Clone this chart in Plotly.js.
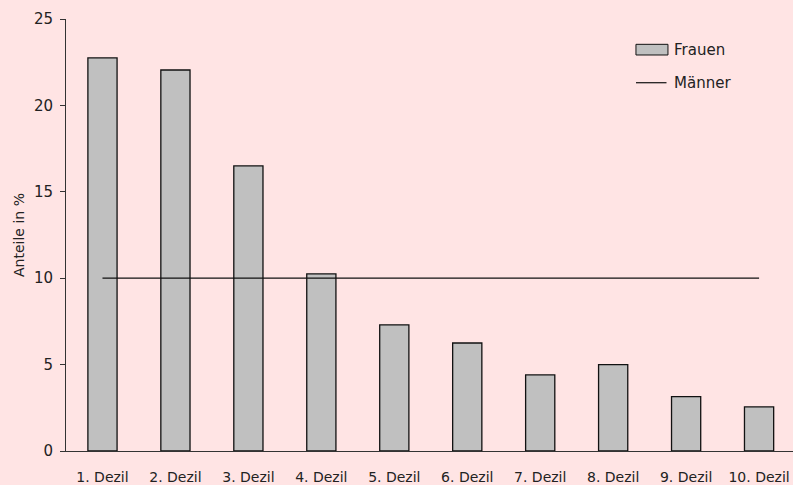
<!DOCTYPE html>
<html>
<head>
<meta charset="utf-8">
<script src="https://cdn.plot.ly/plotly-3.0.1.min.js"></script>
<style>html,body{margin:0;padding:0;background:#ffe4e4;}</style>
</head>
<body>
<div id="chart" style="width:793px;height:485px;"></div>
<script>
const categories = ["1. Dezil","2. Dezil","3. Dezil","4. Dezil","5. Dezil","6. Dezil","7. Dezil","8. Dezil","9. Dezil","10. Dezil"];
const frauen = [22.75, 22.05, 16.5, 10.25, 7.3, 6.25, 4.4, 5.0, 3.15, 2.55];
const maenner = [10, 10, 10, 10, 10, 10, 10, 10, 10, 10];
const yTicks = [0, 5, 10, 15, 20, 25];
const seriesNames = ["Frauen", "Männer"];

const fam = "'DejaVu Sans', sans-serif";
const txt = "#222";

Plotly.newPlot("chart", [
  {type: "bar", name: seriesNames[0], x: categories, y: frauen, showlegend: false,
   marker: {color: "#c0c0c0", line: {color: "#111", width: 1.3}}},
  {type: "scatter", mode: "lines", name: seriesNames[1], x: categories, y: maenner, showlegend: false,
   line: {color: "#111", width: 1.2}}
], {
  width: 793, height: 485,
  paper_bgcolor: "#ffe4e4", plot_bgcolor: "#ffe4e4",
  margin: {l: 66, r: 0, t: 19, b: 34},
  font: {family: fam, size: 14, color: txt},
  bargap: 0.6,
  showlegend: false,
  shapes: [
    {type: "rect", xref: "paper", yref: "paper", x0: 0.784, x1: 0.828, y0: 0.9167, y1: 0.9414,
     fillcolor: "#c0c0c0", line: {color: "#111", width: 1}},
    {type: "line", xref: "paper", yref: "paper", x0: 0.784, x1: 0.826, y0: 0.8525, y1: 0.8525,
     line: {color: "#111", width: 1.2}}
  ],
  annotations: [
    {xref: "paper", yref: "paper", x: 0.8336, y: 0.929, xanchor: "left", yanchor: "middle",
     text: seriesNames[0], showarrow: false, font: {family: fam, size: 15, color: txt}},
    {xref: "paper", yref: "paper", x: 0.8336, y: 0.852, xanchor: "left", yanchor: "middle",
     text: seriesNames[1], showarrow: false, font: {family: fam, size: 15, color: txt}}
  ],
  xaxis: {type: "category", range: [-0.5, 9.465], showline: true, linecolor: "#333",
          linewidth: 1, ticks: "", showgrid: false, zeroline: false,
          ticklabelstandoff: 13,
          tickfont: {family: fam, size: 14, color: txt}, fixedrange: true},
  yaxis: {range: [0, 25], tickvals: yTicks, ticktext: yTicks.map(String),
          showline: true, linecolor: "#333", linewidth: 1, ticks: "outside",
          ticklen: 5, tickcolor: "#333", showgrid: false, zeroline: false,
          ticklabelstandoff: 4,
          tickfont: {family: fam, size: 15, color: txt},
          title: {text: "Anteile in %", font: {family: fam, size: 14, color: txt}, standoff: 6}}
}, {displayModeBar: false, staticPlot: true});
</script>
</body>
</html>
